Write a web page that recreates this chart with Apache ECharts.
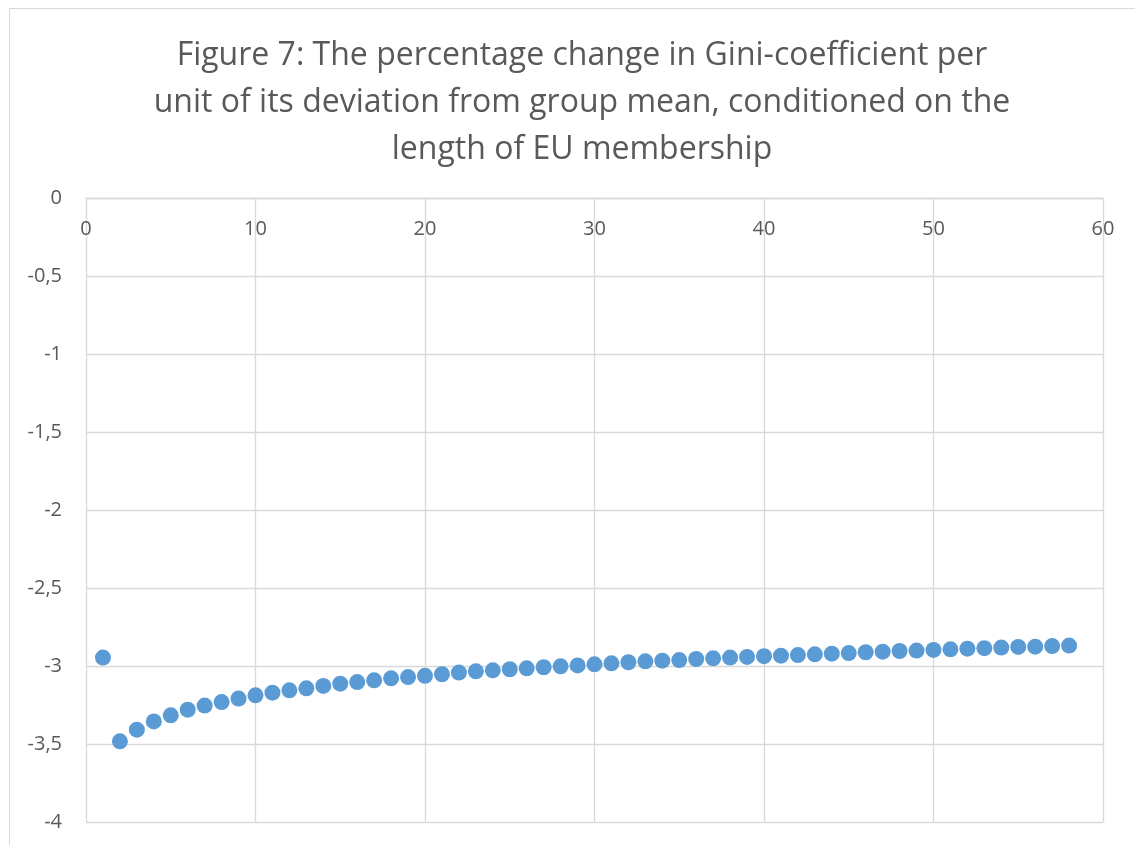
<!DOCTYPE html>
<html>
<head>
<meta charset="utf-8">
<script src="https://cdn.jsdelivr.net/npm/echarts@6/dist/echarts.min.js"></script>
<style>
  html, body {
    margin: 0;
    padding: 0;
    width: 1135px;
    height: 845px;
    overflow: hidden;
    background: #ffffff;
  }
  .frame {
    position: absolute;
    left: 9px;
    top: 8px;
    width: 1300px;
    height: 1000px;
    border: 1px solid #d9d9d9;
  }
  #chart {
    position: absolute;
    left: 0;
    top: 0;
    width: 1135px;
    height: 845px;
  }
</style>
</head>
<body>
<div class="frame"></div>
<div id="chart"></div>
<script>
// years of EU membership
const years = [
  1, 2, 3, 4, 5, 6, 7, 8, 9, 10,
  11, 12, 13, 14, 15, 16, 17, 18, 19, 20,
  21, 22, 23, 24, 25, 26, 27, 28, 29, 30,
  31, 32, 33, 34, 35, 36, 37, 38, 39, 40,
  41, 42, 43, 44, 45, 46, 47, 48, 49, 50,
  51, 52, 53, 54, 55, 56, 57, 58
];
// % change in Gini per unit of deviation
const giniChange = [
  -2.946, -3.483, -3.408, -3.355, -3.316, -3.280, -3.254, -3.231, -3.209, -3.188,
  -3.171, -3.156, -3.143, -3.128, -3.113, -3.103, -3.092, -3.079, -3.071, -3.063,
  -3.053, -3.042, -3.034, -3.028, -3.021, -3.015, -3.008, -3.002, -2.996, -2.989,
  -2.983, -2.976, -2.970, -2.966, -2.962, -2.955, -2.951, -2.946, -2.942, -2.937,
  -2.934, -2.930, -2.925, -2.921, -2.917, -2.912, -2.908, -2.904, -2.901, -2.897,
  -2.893, -2.889, -2.886, -2.882, -2.878, -2.876, -2.872, -2.869
];
const titleText = "Figure 7: The percentage change in Gini-coefficient per\nunit of its deviation from group mean, conditioned on the\nlength of EU membership";

const points = years.map((y, i) => [y, giniChange[i]]);
const myChart = echarts.init(document.getElementById("chart"));
const gridColor = "#d9d9d9";
const textColor = "#595959";
const option = {
  animation: false,
  title: {
    text: titleText,
    left: 577,
    top: 27,
    textAlign: "center",
    textStyle: {
      fontFamily: "Open Sans",
      fontSize: 32,
      fontWeight: "normal",
      color: textColor,
      lineHeight: 47
    }
  },
  grid: {
    left: 86,
    right: 32,
    top: 198,
    bottom: 23
  },
  xAxis: {
    type: "value",
    min: 0,
    max: 60,
    interval: 10,
    position: "top",
    axisLine: { show: true, lineStyle: { color: gridColor, width: 1.3 } },
    axisTick: { show: false },
    axisLabel: {
      inside: true,
      margin: 21,
      fontFamily: "Open Sans",
      fontSize: 20,
      color: textColor
    },
    splitLine: { show: true, lineStyle: { color: gridColor, width: 1.3 } }
  },
  yAxis: {
    type: "value",
    min: -4,
    max: 0,
    interval: 0.5,
    axisLine: { show: false },
    axisTick: { show: false },
    axisLabel: {
      margin: 24,
      fontFamily: "Open Sans",
      fontSize: 20,
      color: textColor,
      formatter: v => String(v).replace(".", ",")
    },
    splitLine: { show: true, lineStyle: { color: gridColor, width: 1.3 } }
  },
  series: [
    {
      type: "scatter",
      data: points,
      symbol: "circle",
      symbolSize: 16,
      itemStyle: { color: "#5b9bd5", opacity: 1 }
    }
  ]
};
myChart.setOption(option);
</script>
</body>
</html>
